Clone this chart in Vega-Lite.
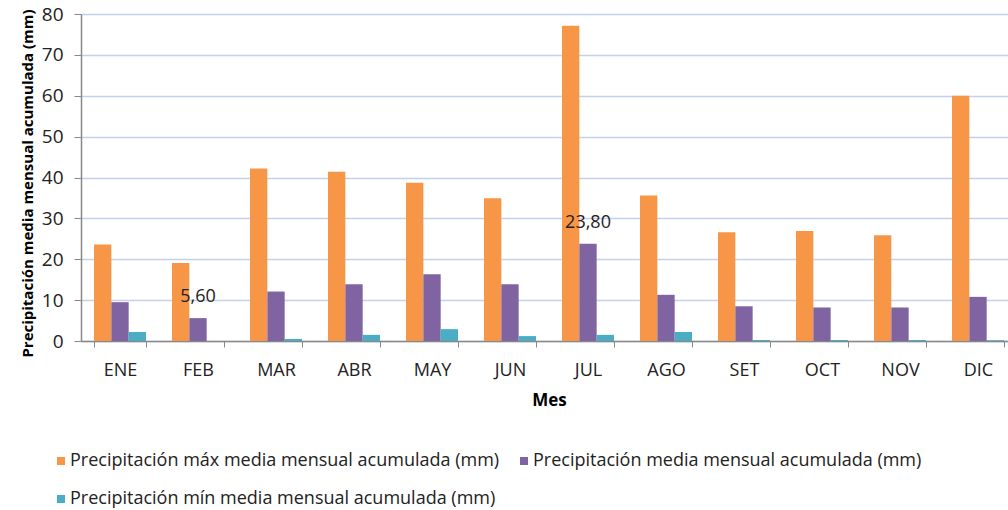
{
  "$schema": "https://vega.github.io/schema/vega-lite/v6.json",
  "autosize": "none",
  "width": 936,
  "height": 327,
  "padding": {"left": 81, "top": 14, "right": 0, "bottom": 169},
  "config": {"view": {"stroke": null}, "font": "Open Sans"},
  "data": {
    "values": [
      {"mes": "ENE", "serie": "Precipitación máx media mensual acumulada (mm)", "valor": 23.6},
      {"mes": "ENE", "serie": "Precipitación media mensual acumulada (mm)", "valor": 9.5},
      {"mes": "ENE", "serie": "Precipitación mín media mensual acumulada (mm)", "valor": 2.2},
      {"mes": "FEB", "serie": "Precipitación máx media mensual acumulada (mm)", "valor": 19.1},
      {"mes": "FEB", "serie": "Precipitación media mensual acumulada (mm)", "valor": 5.6, "etiqueta": "5,60"},
      {"mes": "FEB", "serie": "Precipitación mín media mensual acumulada (mm)", "valor": 0},
      {"mes": "MAR", "serie": "Precipitación máx media mensual acumulada (mm)", "valor": 42.2},
      {"mes": "MAR", "serie": "Precipitación media mensual acumulada (mm)", "valor": 12.1},
      {"mes": "MAR", "serie": "Precipitación mín media mensual acumulada (mm)", "valor": 0.5},
      {"mes": "ABR", "serie": "Precipitación máx media mensual acumulada (mm)", "valor": 41.4},
      {"mes": "ABR", "serie": "Precipitación media mensual acumulada (mm)", "valor": 13.9},
      {"mes": "ABR", "serie": "Precipitación mín media mensual acumulada (mm)", "valor": 1.5},
      {"mes": "MAY", "serie": "Precipitación máx media mensual acumulada (mm)", "valor": 38.7},
      {"mes": "MAY", "serie": "Precipitación media mensual acumulada (mm)", "valor": 16.3},
      {"mes": "MAY", "serie": "Precipitación mín media mensual acumulada (mm)", "valor": 2.9},
      {"mes": "JUN", "serie": "Precipitación máx media mensual acumulada (mm)", "valor": 34.9},
      {"mes": "JUN", "serie": "Precipitación media mensual acumulada (mm)", "valor": 13.9},
      {"mes": "JUN", "serie": "Precipitación mín media mensual acumulada (mm)", "valor": 1.2},
      {"mes": "JUL", "serie": "Precipitación máx media mensual acumulada (mm)", "valor": 77.1},
      {"mes": "JUL", "serie": "Precipitación media mensual acumulada (mm)", "valor": 23.8, "etiqueta": "23,80"},
      {"mes": "JUL", "serie": "Precipitación mín media mensual acumulada (mm)", "valor": 1.5},
      {"mes": "AGO", "serie": "Precipitación máx media mensual acumulada (mm)", "valor": 35.6},
      {"mes": "AGO", "serie": "Precipitación media mensual acumulada (mm)", "valor": 11.3},
      {"mes": "AGO", "serie": "Precipitación mín media mensual acumulada (mm)", "valor": 2.2},
      {"mes": "SET", "serie": "Precipitación máx media mensual acumulada (mm)", "valor": 26.6},
      {"mes": "SET", "serie": "Precipitación media mensual acumulada (mm)", "valor": 8.5},
      {"mes": "SET", "serie": "Precipitación mín media mensual acumulada (mm)", "valor": 0.25},
      {"mes": "OCT", "serie": "Precipitación máx media mensual acumulada (mm)", "valor": 26.9},
      {"mes": "OCT", "serie": "Precipitación media mensual acumulada (mm)", "valor": 8.2},
      {"mes": "OCT", "serie": "Precipitación mín media mensual acumulada (mm)", "valor": 0.25},
      {"mes": "NOV", "serie": "Precipitación máx media mensual acumulada (mm)", "valor": 25.9},
      {"mes": "NOV", "serie": "Precipitación media mensual acumulada (mm)", "valor": 8.2},
      {"mes": "NOV", "serie": "Precipitación mín media mensual acumulada (mm)", "valor": 0.25},
      {"mes": "DIC", "serie": "Precipitación máx media mensual acumulada (mm)", "valor": 60.0},
      {"mes": "DIC", "serie": "Precipitación media mensual acumulada (mm)", "valor": 10.8},
      {"mes": "DIC", "serie": "Precipitación mín media mensual acumulada (mm)", "valor": 0.2}
    ]
  },
  "encoding": {
    "x": {
      "field": "mes", "type": "nominal",
      "sort": ["ENE","FEB","MAR","ABR","MAY","JUN","JUL","AGO","SET","OCT","NOV","DIC"],
      "scale": {"paddingInner": 0.3333, "paddingOuter": 0.1667},
      "axis": {
        "title": "Mes", "titleFontSize": 17, "titleFontWeight": "bold", "titleColor": "#000", "titlePadding": 13,
        "labelAngle": 0, "labelFontSize": 18, "labelColor": "#222", "labelPadding": 14,
        "tickBand": "extent", "tickSize": 6, "tickColor": "#888", "domainColor": "#888", "domainWidth": 1.5
      }
    },
    "xOffset": {
      "field": "serie", "type": "nominal",
      "sort": ["Precipitación máx media mensual acumulada (mm)", "Precipitación media mensual acumulada (mm)", "Precipitación mín media mensual acumulada (mm)"]
    },
    "y": {
      "field": "valor", "type": "quantitative",
      "scale": {"domain": [0, 80], "nice": false},
      "axis": {
        "title": "Precipitación media mensual acumulada (mm)", "titleFontSize": 15, "titleFontWeight": "bold", "titleColor": "#000", "titlePadding": 6, "titleY": 169,
        "values": [0,10,20,30,40,50,60,70,80],
        "labelFontSize": 19, "labelColor": "#222", "labelPadding": 11,
        "tickSize": 7, "tickColor": "#888", "domainColor": "#888", "domainWidth": 1.5,
        "gridColor": "#C3D2EC", "gridWidth": 1.5
      }
    }
  },
  "layer": [
    {
      "mark": {"type": "bar"},
      "encoding": {
        "color": {
          "field": "serie", "type": "nominal",
          "sort": ["Precipitación máx media mensual acumulada (mm)", "Precipitación mín media mensual acumulada (mm)", "Precipitación media mensual acumulada (mm)"],
          "scale": {"range": ["#F79646", "#4BACC6", "#8064A2"]},
          "legend": {
            "title": null, "orient": "none", "legendX": -29, "legendY": 438,
            "columns": 2, "symbolType": "square", "symbolSize": 64, "symbolStrokeWidth": 0,
            "labelFontSize": 18, "labelColor": "#222", "labelLimit": 0, "labelOffset": 0,
            "rowPadding": 20, "columnPadding": 15
          }
        }
      }
    },
    {
      "transform": [{"filter": "datum.etiqueta != null"}],
      "mark": {"type": "text", "baseline": "bottom", "dy": -12, "fontSize": 18, "color": "#222"},
      "encoding": {"text": {"field": "etiqueta"}}
    }
  ]
}
